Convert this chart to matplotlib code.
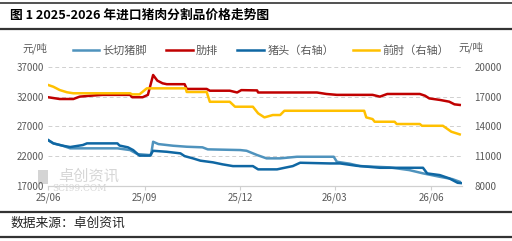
import matplotlib
matplotlib.use('Agg')
import matplotlib.pyplot as plt
import matplotlib.dates as mdates
from matplotlib.patches import Rectangle
import pandas as pd

plt.rcParams['font.family'] = ['Noto Sans CJK SC', 'DejaVu Sans']

# 长切猪脚 (left axis)
zj_dates = ['2025-06-01', '2025-06-06', '2025-06-15', '2025-06-22', '2025-08-06', '2025-08-18',
            '2025-08-25', '2025-09-06', '2025-09-07', '2025-09-09', '2025-09-14', '2025-09-28',
            '2025-10-11', '2025-10-26', '2025-10-31', '2025-12-01', '2025-12-07', '2025-12-17',
            '2025-12-26', '2026-01-08', '2026-01-24', '2026-02-28', '2026-03-03', '2026-03-15',
            '2026-03-25', '2026-04-22', '2026-05-11', '2026-05-24', '2026-06-09', '2026-06-21',
            '2026-06-28']
zj_vals = [24680, 24120, 23720, 23280, 23280, 22990, 22310, 22140, 22140, 24390, 24000, 23720,
           23550, 23450, 23110, 22990, 22870, 22150, 21590, 21590, 21860, 21860, 21010, 20700,
           20290, 20070, 19610, 19060, 18480, 18090, 17640]

# 肋排 (left axis)
lp_dates = ['2025-06-01', '2025-06-12', '2025-06-25', '2025-07-01', '2025-07-11', '2025-07-23',
            '2025-08-18', '2025-08-20', '2025-08-30', '2025-09-04', '2025-09-09', '2025-09-13',
            '2025-09-18', '2025-09-22', '2025-10-09', '2025-10-11', '2025-10-30', '2025-11-02',
            '2025-11-21', '2025-11-28', '2025-12-02', '2025-12-17', '2025-12-18', '2026-02-12',
            '2026-02-21', '2026-03-03', '2026-04-06', '2026-04-13', '2026-04-20', '2026-05-21',
            '2026-05-26', '2026-05-30', '2026-06-09', '2026-06-18', '2026-06-23', '2026-06-28']
lp_vals = [31900, 31600, 31600, 32000, 32150, 32300, 32300, 31900, 31900, 32300, 35650, 34700,
           34250, 34100, 34100, 33300, 33300, 33000, 33000, 32700, 33100, 33050, 32700, 32700,
           32450, 32300, 32300, 32000, 32450, 32450, 32150, 31700, 31450, 31150, 30700, 30600]

# 猪头 (right axis)
zt_dates = ['2025-06-01', '2025-06-06', '2025-06-15', '2025-06-22', '2025-07-04', '2025-07-08',
            '2025-08-06', '2025-08-08', '2025-08-16', '2025-08-21', '2025-08-27', '2025-09-06',
            '2025-09-09', '2025-09-22', '2025-10-05', '2025-10-09', '2025-10-17', '2025-10-24',
            '2025-11-05', '2025-11-14', '2025-11-24', '2025-12-13', '2025-12-18', '2026-01-05',
            '2026-01-14', '2026-01-20', '2026-01-27', '2026-02-24', '2026-03-06', '2026-03-22',
            '2026-04-13', '2026-05-24', '2026-05-28', '2026-06-09', '2026-06-18', '2026-06-26',
            '2026-06-29']
zt_vals = [12600, 12270, 12030, 11900, 12100, 12270, 12270, 12050, 11870, 11590, 11030, 11030,
           11520, 11420, 11260, 10980, 10750, 10520, 10350, 10150, 9970, 9970, 9640, 9640,
           9840, 9970, 10310, 10240, 10240, 10000, 9800, 9800, 9230, 9060, 8730, 8280, 8250]

# 前肘 (right axis)
qz_dates = ['2025-06-01', '2025-06-06', '2025-06-12', '2025-06-19', '2025-06-25', '2025-08-18',
            '2025-08-20', '2025-08-27', '2025-09-03', '2025-10-10', '2025-10-11', '2025-10-30',
            '2025-11-02', '2025-11-21', '2025-11-26', '2025-12-13', '2025-12-18', '2025-12-24',
            '2026-01-01', '2026-01-08', '2026-01-12', '2026-03-29', '2026-03-31', '2026-04-06',
            '2026-04-08', '2026-04-27', '2026-04-29', '2026-05-21', '2026-05-23', '2026-06-12',
            '2026-06-20', '2026-06-28']
qz_vals = [18180, 18000, 17670, 17440, 17340, 17340, 17230, 17230, 17840, 17840, 17470, 17470,
           16480, 16480, 15980, 15980, 15310, 14900, 15140, 15140, 15570, 15570, 14900, 14730,
           14460, 14460, 14230, 14230, 14050, 14050, 13450, 13180]

x_ticks = ['2025-06-01', '2025-09-01', '2025-12-01', '2026-03-01', '2026-06-01']
left_ticks = [17000, 22000, 27000, 32000, 37000]
right_ticks = [8000, 11000, 14000, 17000, 20000]

c_zj = '#4f93bd'
c_lp = '#c00000'
c_zt = '#0f67a3'
c_qz = '#ffc000'
grey = '#595959'


def main():
    fig = plt.figure(figsize=(5.12, 2.41), dpi=100)
    ax = fig.add_axes([0.094, 0.230, 0.808, 0.492])
    ax2 = ax.twinx()

    # watermark, drawn first so it sits under everything
    fig.add_artist(Rectangle((0.075, 0.235), 0.022, 0.06, transform=fig.transFigure,
                             color='#d4d4d4', lw=0, zorder=0))
    fig.text(0.113, 0.268, '卓创资讯', fontsize=11, color='#d6d6d6', va='center', zorder=0)
    fig.text(0.103, 0.218, 'SCI99.COM', fontsize=6.5, color='#d6d6d6', va='center',
             family='DejaVu Serif', zorder=0)

    l1, = ax.plot(pd.to_datetime(zj_dates), zj_vals, color=c_zj, lw=1.8, label='长切猪脚')
    l2, = ax.plot(pd.to_datetime(lp_dates), lp_vals, color=c_lp, lw=1.8, label='肋排')
    l3, = ax2.plot(pd.to_datetime(zt_dates), zt_vals, color=c_zt, lw=1.8, label='猪头（右轴）')
    l4, = ax2.plot(pd.to_datetime(qz_dates), qz_vals, color=c_qz, lw=1.8, label='前肘（右轴）')

    ax.set_xlim(pd.Timestamp('2025-06-01'), pd.Timestamp('2026-06-30'))
    ax.set_ylim(17000, 37000)
    ax2.set_ylim(8000, 20000)
    ax.set_yticks(left_ticks)
    ax2.set_yticks(right_ticks)
    ax.set_xticks(pd.to_datetime(x_ticks))
    ax.xaxis.set_major_formatter(mdates.DateFormatter('%y/%m'))

    ax.grid(axis='y', color='#d0d0d0', ls=(0, (4, 3)), lw=0.7)
    for a in (ax, ax2):
        for s in ('top', 'left', 'right'):
            a.spines[s].set_visible(False)
        a.spines['bottom'].set_color('#d0d0d0')
    ax.tick_params(axis='y', length=0, labelsize=7, colors=grey, pad=3)
    ax2.tick_params(axis='y', length=0, labelsize=7, colors=grey, pad=9)
    ax.tick_params(axis='x', length=3, color='#d0d0d0', labelsize=7, labelcolor=grey, pad=2)

    fig.text(0.043, 0.80, '元/吨', fontsize=7.5, color=grey, va='center')
    fig.text(0.895, 0.805, '元/吨', fontsize=7.5, color=grey, va='center')
    fig.legend(handles=[l1, l2, l3, l4], loc='center', bbox_to_anchor=(0.51, 0.79),
               ncol=4, frameon=False, fontsize=8, handlelength=2.4, handletextpad=0.3,
               columnspacing=1.7, labelcolor=grey)

    # title and footer with rules
    fig.text(0.02, 0.935, '图 1 2025-2026 年进口猪肉分割品价格走势图', fontsize=9.2,
             fontweight='bold', va='center')
    fig.text(0.02, 0.075, '数据来源：卓创资讯', fontsize=9.2, va='center', color='#222222')
    fig.add_artist(plt.Line2D([0, 1], [0.988, 0.988], color='#333333', lw=1.2))
    fig.add_artist(plt.Line2D([0, 1], [0.880, 0.880], color='#333333', lw=1.6))
    fig.add_artist(plt.Line2D([0, 1], [0.121, 0.121], color='#333333', lw=1.6))
    fig.add_artist(plt.Line2D([0, 1], [0.018, 0.018], color='#333333', lw=1.6))

    fig.savefig('out.png', dpi=100)


if __name__ == '__main__':
    main()
